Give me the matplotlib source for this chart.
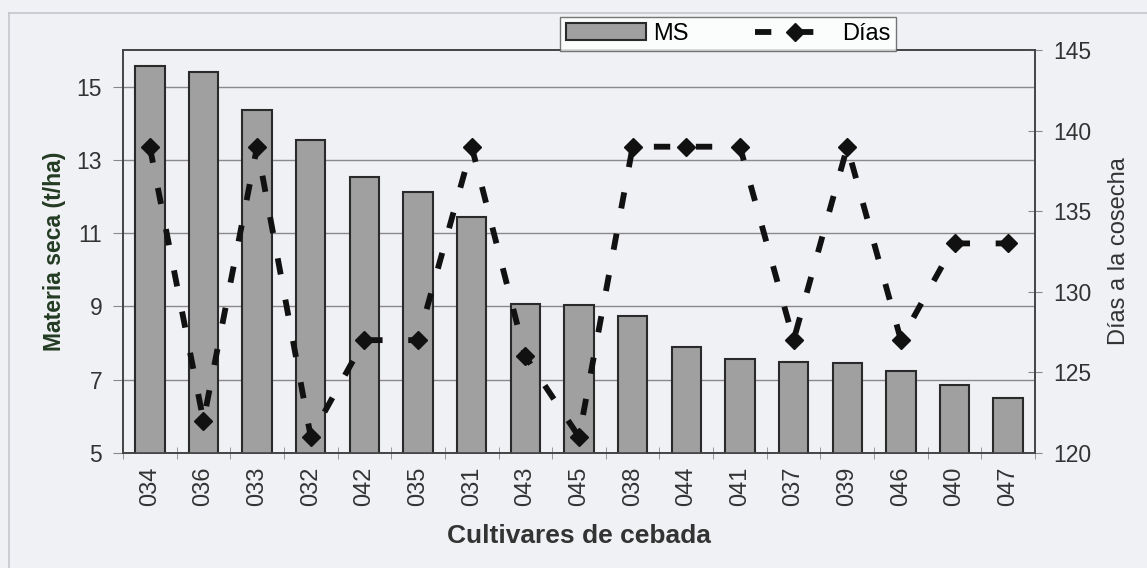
import numpy as np
import matplotlib.pyplot as plt
from matplotlib.lines import Line2D

plt.rcParams['font.family'] = ['Liberation Sans', 'DejaVu Sans']

cultivares = ["034", "036", "033", "032", "042", "035", "031", "043", "045",
              "038", "044", "041", "037", "039", "046", "040", "047"]
ms = [15.55, 15.4, 14.37, 13.53, 12.54, 12.11, 11.44, 9.07, 9.05,
      8.75, 7.9, 7.57, 7.49, 7.46, 7.24, 6.86, 6.51]
dias = [139, 122, 139, 121, 127, 127, 139, 126, 121,
        139, 139, 139, 127, 139, 127, 133, 133]

bg = '#f0f1f5'
x = np.arange(len(cultivares))

fig = plt.figure(figsize=(11.47, 5.68), dpi=100, facecolor=bg)
ax = fig.add_axes([0.1072, 0.2025, 0.7952, 0.7095])
ax.set_facecolor(bg)

# outer chart frame (only left/top visible in the scan)
fig.add_artist(Line2D([9/1147, 9/1147], [0, 1 - 13/568], color='#c4c6cc', lw=1.2))
fig.add_artist(Line2D([9/1147, 1], [1 - 13/568, 1 - 13/568], color='#c4c6cc', lw=1.2))

bars = ax.bar(x, ms, width=0.55, color='#a0a0a0', edgecolor='#2a2a2a',
              linewidth=1.5, zorder=3, label='MS')
ax.set_xlim(-0.5, len(cultivares) - 0.5)
ax.set_ylim(5, 16)
ax.set_yticks([5, 7, 9, 11, 13, 15])
ax.grid(axis='y', color='#8a8a8a', lw=1.0, zorder=0)
ax.set_axisbelow(True)

ax.set_xticks(x)
ax.set_xticklabels(cultivares, rotation=90, fontsize=17, color='#333333')
ax.set_xticks(np.arange(-0.5, len(cultivares), 1), minor=True)
ax.tick_params(axis='x', which='major', length=0, pad=10)
ax.tick_params(axis='x', which='minor', length=8, direction='inout', color='#888888')
ax.tick_params(axis='y', labelsize=16.5, labelcolor='#333333', length=7,
               color='#888888', pad=8)

for s in ax.spines.values():
    s.set_color('#444444')
    s.set_linewidth(1.2)

ax.set_ylabel('Materia seca (t/ha)', fontsize=16.5, fontweight='bold',
              color='#233b23', labelpad=8)
ax.set_xlabel('Cultivares de cebada', fontsize=19, fontweight='bold',
              color='#333333', labelpad=13)

ax2 = ax.twinx()
line, = ax2.plot(x, dias, color='#111111', lw=4.2, dashes=(2.8, 4.4),
                 dash_capstyle='butt', marker='D', markersize=9,
                 markerfacecolor='#111111', markeredgecolor='#111111',
                 label='Días', zorder=5)
ax2.set_ylim(120, 145)
ax2.set_yticks([120, 125, 130, 135, 140, 145])
ax2.tick_params(axis='y', labelsize=16.5, labelcolor='#333333', length=10,
                direction='inout', color='#888888', pad=8)
ax2.set_ylabel('Días a la cosecha', fontsize=17, color='#333333', labelpad=12)
for s in ax2.spines.values():
    s.set_color('#444444')
    s.set_linewidth(1.2)

leg = fig.legend([bars, line], ['MS', 'Días'], ncol=2,
                 loc='upper left', bbox_to_anchor=(0.488, 0.970),
                 borderaxespad=0.0,
                 fontsize=17, frameon=True, fancybox=False,
                 handlelength=3.4, handleheight=0.7, columnspacing=2.8,
                 borderpad=0.25, handletextpad=0.3)
leg.get_frame().set_edgecolor('#555555')
leg.get_frame().set_facecolor('white')
leg.get_frame().set_linewidth(1.0)
leg.set_zorder(10)

fig.savefig('out.png', dpi=100, facecolor=bg)
